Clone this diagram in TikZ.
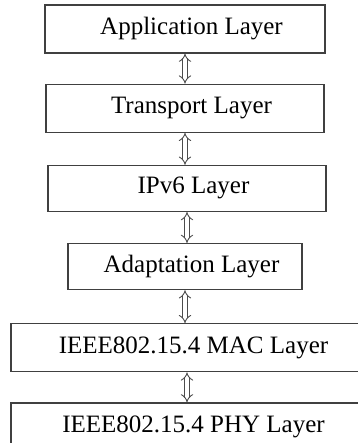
\documentclass[tikz,border=0pt]{standalone}
\usepackage{fontspec}
\setmainfont{Liberation Serif}
\usepackage{tikz}
\usetikzlibrary{positioning}
\usetikzlibrary{arrows.meta}

\tikzset{
  layer/.style={draw=black!75, line width=1.2pt, minimum height=48pt, inner sep=2pt,
    font=\fontsize{25}{30}\selectfont, execute at begin node=\hspace*{13pt}},
  updown/.style={draw=black!70, double, double distance=3.4pt, line width=0.9pt,
    {Implies[length=5pt]}-{Implies[length=5pt]}}
}

\begin{document}
\begin{tikzpicture}
\useasboundingbox (0pt,0pt) rectangle (357pt,-443pt);
% upper layers
\node[layer, minimum width=280pt] (app) at (185pt,-29pt) {Application Layer};
\node[layer, minimum width=278pt] (trans) [below=30pt of app] {Transport Layer};
\node[layer, minimum width=278pt, minimum height=46pt] (ipv6) [below=32pt of trans, xshift=2pt] {IPv6 Layer};
\node[layer, minimum width=234pt, minimum height=46pt] (adapt) [below=31pt of ipv6, xshift=-2pt] {Adaptation Layer};
% 802.15.4 layers
\node[layer, minimum width=352pt] (mac) [below=33pt of adapt, xshift=2pt] {IEEE802.15.4 MAC Layer};
\node[layer, minimum width=352pt] (phy) [below=30pt of mac] {IEEE802.15.4 PHY Layer};
% arrows
\draw[updown] (app.south) -- (trans.north);
\draw[updown] (trans.south) -- (trans.south |- ipv6.north);
\draw[updown] (ipv6.south) -- (ipv6.south |- adapt.north);
\draw[updown] (adapt.south) -- (adapt.south |- mac.north);
\draw[updown] (mac.south) -- (phy.north);
\end{tikzpicture}
\end{document}
